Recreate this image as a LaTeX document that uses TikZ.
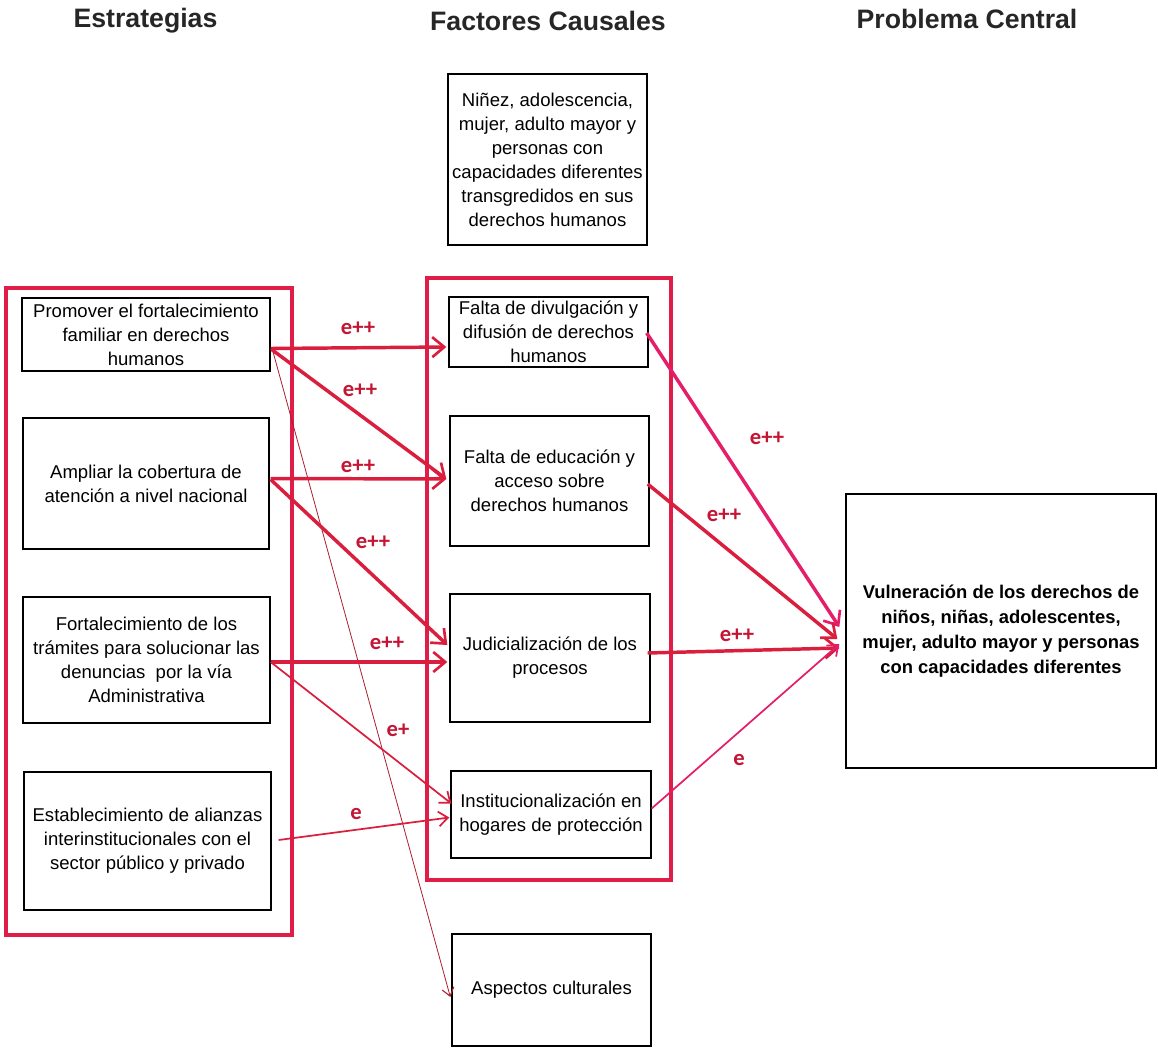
\documentclass[tikz,border=0pt]{standalone}
\usepackage{fontspec}
\setmainfont{Liberation Sans}
\newfontfamily\lblfont{Carlito}
\usetikzlibrary{arrows.meta,calc}
\definecolor{framered}{RGB}{224,28,72}
\definecolor{arrred}{RGB}{218,30,62}
\definecolor{pinkred}{RGB}{228,30,105}
\definecolor{lblred}{RGB}{196,22,52}
\definecolor{darkred}{RGB}{170,30,45}
\begin{document}
\begin{tikzpicture}[x=0.75pt,y=-0.75pt,
  wh/.style 2 args={minimum width={#1*0.75pt}, minimum height={#2*0.75pt}},
  box/.style={draw=black, line width=1pt, fill=white, align=center, inner sep=0pt,
    font=\fontsize{13.9}{18}\selectfont},
  pbox/.style={box, font=\bfseries\fontsize{13.8}{18.75}\selectfont},
  groupframe/.style={draw=framered, line width=3pt, inner sep=0pt},
  title/.style={font=\bfseries\fontsize{20}{22}\selectfont, text=black!85},
  lbl/.style={font=\lblfont\bfseries\fontsize{17}{18}\selectfont, text=lblred, inner sep=0pt},
  thickarr/.style={draw=arrred, line width=2.6pt, -{Straight Barb[length=9pt,width=15pt,line width=2pt]}},
  thinarr/.style={draw=arrred, line width=1.3pt, -{Straight Barb[length=7pt,width=11pt,line width=1.3pt]}},
  hairarr/.style={draw=darkred, line width=0.6pt, -{Straight Barb[length=6pt,width=9pt,line width=0.8pt]}}
]
\useasboundingbox (0,0) rectangle (1158,1049);

% titles
\node[title] (T1) at (145.5,21) {Estrategias};
\node[title] (T2) at (548,21) {Factores Causales};
\node[title] (T3) at (967,19) {Problema Central};

% group frames
\node[groupframe, wh={286}{647}] (LF) at (149,611.5) {};
\node[groupframe, wh={244}{602}] (MF) at (549,579) {};

% strategy boxes
\node[box, wh={248}{73}] (B1) at (146,334.5) {Promover el fortalecimiento\\familiar en derechos\\humanos};
\node[box, wh={246}{131}] (B2) at (146,483.5) {Ampliar la cobertura de\\atención a nivel nacional};
\node[box, wh={247}{126}] (B3) at (146.5,660) {Fortalecimiento de los\\trámites para solucionar las\\denuncias\ \ por la vía\\Administrativa};
\node[box, wh={247}{138}] (B4) at (147.5,841) {Establecimiento de alianzas\\interinstitucionales con el\\sector público y privado};

% causal factor boxes
\node[box, wh={199}{171}] (M0) at (547.5,159.5) {Niñez, adolescencia,\\mujer, adulto mayor y\\personas con\\capacidades diferentes\\transgredidos en sus\\derechos humanos};
\node[box, wh={199}{70}] (M1) at (548.5,332) {Falta de divulgación y\\difusión de derechos\\humanos};
\node[box, wh={199}{130}] (M2) at (549.5,481) {Falta de educación y\\acceso sobre\\derechos humanos};
\node[box, wh={200}{128}] (M3) at (550,658) {Judicialización de los\\procesos};
\node[box, wh={200}{87}] (M4) at (551,814.5) {Institucionalización en\\hogares de protección};
\node[box, wh={199}{112}] (M5) at (551.5,990) {Aspectos culturales};

% central problem
\node[pbox, wh={310}{274}] (P) at (1001,631) {Vulneración de los derechos de\\niños, niñas, adolescentes,\\mujer, adulto mayor y personas\\con capacidades diferentes};

% strategy -> factor connectors
\draw[hairarr] ($(B1.east)+(2,16)$) -- ($(M5.west)+(-1,7)$);
\draw[thickarr] ($(B1.east)+(0,14)$) -- ($(M1.west)+(-2,15)$);
\draw[thickarr] ($(B1.east)+(1,15)$) -- ($(M2.west)+(-3,-2)$);
\draw[thickarr] ($(B2.east)+(1,-5)$) -- ($(M2.west)+(-3,-2)$);
\draw[thickarr] ($(B2.east)+(1,-4)$) -- ($(M3.west)+(-2,-13)$);
\draw[thickarr] ($(B3.east)+(0,2)$) -- ($(M3.west)+(-2,4)$);
\draw[thinarr] ($(B3.east)+(0,2)$) -- ($(M4.west)+(1,-11)$);
\draw[thinarr] ($(B4.east)+(7,-1)$) -- ($(M4.west)+(-1,3)$);

% factor -> problem connectors
\draw[thickarr, draw=pinkred] ($(M1.east)+(-2,1)$) -- ($(P.west)+(-6,-4)$);
\draw[thickarr] ($(M2.east)+(-2,3)$) -- ($(P.west)+(-8,8)$);
\draw[thickarr] ($(M3.east)+(-3,-5)$) -- ($(P.west)+(-6,17)$);
\draw[thinarr, draw=pinkred] ($(M4.east)+(0,-6)$) -- ($(P.west)+(-6,13)$);

% labels
\node[lbl] (L1) at (358,328) {e++};
\node[lbl] (L2) at (360,390) {e++};
\node[lbl] (L3) at (358,466) {e++};
\node[lbl] (L4) at (373,542) {e++};
\node[lbl] (L5) at (387,643) {e++};
\node[lbl] (L6) at (398,730) {e+};
\node[lbl] (L7) at (356,814) {e};
\node[lbl] (L8) at (767,438) {e++};
\node[lbl] (L9) at (724,515) {e++};
\node[lbl] (L10) at (737,635) {e++};
\node[lbl] (L11) at (739,760) {e};
\end{tikzpicture}
\end{document}
